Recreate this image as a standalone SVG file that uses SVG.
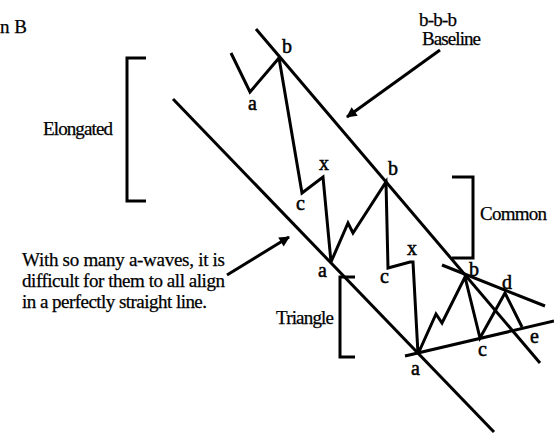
<svg xmlns="http://www.w3.org/2000/svg" width="554" height="433" viewBox="0 0 554 433">
<defs>
<style>
.ln{fill:none;stroke:#000;stroke-width:3;stroke-linecap:butt;stroke-linejoin:miter}
.br{fill:none;stroke:#000;stroke-width:3}
.ar{fill:none;stroke:#000;stroke-width:3}
.lb{font-size:20px;stroke:#000;stroke-width:0.5}
.tx{font-size:19px;stroke:#000;stroke-width:0.25}
</style>
<marker id="ah" viewBox="0 0 10 10" refX="9" refY="5" markerWidth="5" markerHeight="3.5" orient="auto" markerUnits="strokeWidth">
<path d="M0,0 L10,5 L0,10 Z" fill="#000"/>
</marker>
</defs>
<rect width="554" height="433" fill="#fff"/>
<g font-family="'Liberation Serif', 'Times New Roman', serif" fill="#000">
<text x="0" y="33" class="tx">n B</text>
</g>
<g id="channel">
<line class="ln" x1="256" y1="29" x2="540" y2="363"/>
<line class="ln" x1="173" y1="99" x2="494" y2="432"/>
</g>
<g id="triangle-lines">
<line class="ln" x1="442" y1="265" x2="545" y2="306"/>
<line class="ln" x1="405" y1="356" x2="554" y2="321"/>
</g>
<g id="waves">
<polyline class="ln" points="231,53 250,92 279,58 302,193 323,177 331,262 348,223 353,233 386,182 388,268 410,262 413,262 418,354 436,314 442,323 465,277 480,338 505,293 522,327"/>
</g>
<g id="brackets">
<polyline class="br" points="146,58 127,58 127,201 146,201"/>
<polyline class="br" points="452,177 473,177 473,258 452,258"/>
<polyline class="br" points="355,277 340,277 340,357 355,357"/>
</g>
<g id="connectors">
<line class="ar" x1="440" y1="50" x2="347" y2="117" marker-end="url(#ah)"/>
<line class="ar" x1="227" y1="275" x2="289" y2="237" marker-end="url(#ah)"/>
</g>
<g id="labels" font-family="'Liberation Serif', 'Times New Roman', serif" fill="#000">
<text class="lb" x="248" y="110">a</text>
<text class="lb" x="282" y="53">b</text>
<text class="lb" x="296" y="210">c</text>
<text class="lb" x="319" y="170">x</text>
<text class="lb" x="388" y="175">b</text>
<text class="lb" x="318" y="277">a</text>
<text class="lb" x="380" y="283">c</text>
<text class="lb" x="407" y="255">x</text>
<text class="lb" x="469" y="276">b</text>
<text class="lb" x="502" y="289">d</text>
<text class="lb" x="478" y="356">c</text>
<text class="lb" x="530" y="343">e</text>
<text class="lb" x="411" y="375">a</text>
</g>
<g id="texts" font-family="'Liberation Serif', 'Times New Roman', serif" fill="#000">
<text class="tx" x="419" y="26" textLength="38" font-size="18">b-b-b</text>
<text class="tx" x="422" y="45" textLength="59" font-size="18">Baseline</text>
<text class="tx" x="43" y="135" textLength="70">Elongated</text>
<text class="tx" x="480" y="220" textLength="67">Common</text>
<text class="tx" x="276" y="324" textLength="58">Triangle</text>
<text class="tx" x="22" y="266" textLength="203">With so many a-waves, it is</text>
<text class="tx" x="22" y="287" textLength="203">difficult for them to all align</text>
<text class="tx" x="22" y="308" textLength="185">in a perfectly straight line.</text>
</g>
</svg>
